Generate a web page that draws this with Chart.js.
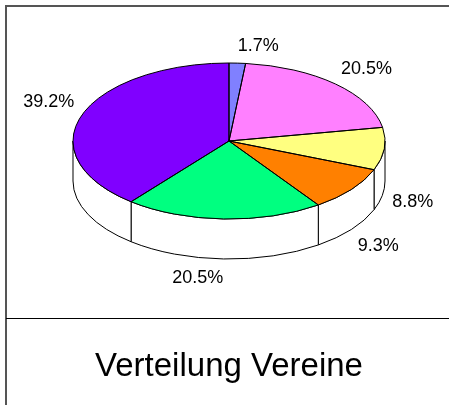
<!DOCTYPE html>
<html>
<head>
<meta charset="utf-8">
<script src="https://cdn.jsdelivr.net/npm/chart.js@4/dist/chart.umd.min.js"></script>
<style>
  html, body { margin: 0; padding: 0; background: #fff; }
  #wrap { position: relative; width: 449px; height: 405px; overflow: hidden; font-family: "Liberation Sans", Arial, sans-serif; }
  #c { position: absolute; left: 0; top: 0; }
  .frameTop { position: absolute; left: 5px; top: 5px; width: 444px; height: 0; border-top: 2px solid #555; }
  .frameLeft { position: absolute; left: 5px; top: 5px; width: 0; height: 400px; border-left: 2px solid #555; }
  .divider { position: absolute; left: 6px; top: 318px; width: 443px; height: 0; border-top: 1px solid #000; }
  #title { position: absolute; left: 0; width: 458px; top: 345px; text-align: center; font-size: 33px; line-height: 40px; color: #000; }
</style>
</head>
<body>
<div id="wrap">
  <canvas id="c" width="449" height="405"></canvas>
  <div class="frameTop"></div>
  <div class="frameLeft"></div>
  <div class="divider"></div>
  <div id="title">Verteilung Vereine</div>
</div>
<script>
// ---- data ----
const categories = ['Verein 1', 'Verein 2', 'Verein 3', 'Verein 4', 'Verein 5', 'Verein 6'];
const shares = [1.7, 20.5, 8.8, 9.3, 20.5, 39.2];
const percentLabels = ['1.7%', '20.5%', '8.8%', '9.3%', '20.5%', '39.2%'];
const sliceColors = ['#8080ff', '#ff80ff', '#ffff80', '#ff8000', '#00ff80', '#8000ff'];

// ---- 3D look (layout) ----
const GEO = { cx: 229, cy: 141, rx: 156, ry: 78, depth: 40 };

function frontSegments(s, e) {
  const out = [];
  for (let k = -1; k <= 1; k++) {
    const lo = Math.max(s, 2 * Math.PI * k), hi = Math.min(e, 2 * Math.PI * k + Math.PI);
    if (hi > lo) out.push([lo, hi]);
  }
  return out;
}

const pie3d = {
  id: 'pie3d',
  beforeDatasetsDraw(chart) {
    const ctx = chart.ctx;
    const arcs = chart.getDatasetMeta(0).data;
    const g = GEO;
    ctx.save();
    ctx.lineWidth = 1;
    ctx.strokeStyle = '#000';
    ctx.fillStyle = '#fff';
    arcs.forEach(a => {
      frontSegments(a.startAngle, a.endAngle).forEach(([b1, b2]) => {
        ctx.beginPath();
        ctx.ellipse(g.cx, g.cy, g.rx, g.ry, 0, b1, b2);
        ctx.lineTo(g.cx + g.rx * Math.cos(b2), g.cy + g.depth + g.ry * Math.sin(b2));
        ctx.ellipse(g.cx, g.cy + g.depth, g.rx, g.ry, 0, b2, b1, true);
        ctx.closePath();
        ctx.fill();
        ctx.stroke();
      });
    });
    ctx.restore();
    const a0 = arcs[0];
    ctx.save();
    ctx.translate(g.cx, g.cy);
    ctx.scale(g.rx / a0.outerRadius, g.ry / a0.outerRadius);
    ctx.translate(-a0.x, -a0.y);
  },
  afterDatasetsDraw(chart) {
    const ctx = chart.ctx;
    ctx.restore();
    const arcs = chart.getDatasetMeta(0).data;
    const g = GEO;
    ctx.save();
    ctx.lineWidth = 1;
    ctx.strokeStyle = '#000';
    ctx.lineJoin = 'round';
    arcs.forEach(a => {
      ctx.beginPath();
      ctx.moveTo(g.cx, g.cy);
      ctx.lineTo(g.cx + g.rx * Math.cos(a.startAngle), g.cy + g.ry * Math.sin(a.startAngle));
      ctx.ellipse(g.cx, g.cy, g.rx, g.ry, 0, a.startAngle, a.endAngle);
      ctx.closePath();
      ctx.stroke();
    });
    // labels
    ctx.fillStyle = '#000';
    ctx.font = '18px "Liberation Sans", Arial, sans-serif';
    ctx.textBaseline = 'middle';
    arcs.forEach((a, i) => {
      const m = (a.startAngle + a.endAngle) / 2;
      const c = Math.cos(m), s = Math.sin(m);
      const x = g.cx + (g.rx + 8) * c;
      let y = g.cy + g.ry * s + 6 * s;
      if (s > 0) y += g.depth + 13; else y -= 11;
      ctx.textAlign = c >= 0 ? 'left' : 'right';
      ctx.fillText(percentLabels[i], x, y);
    });
    ctx.restore();
  }
};

new Chart(document.getElementById('c'), {
  type: 'pie',
  data: {
    labels: categories,
    datasets: [{
      data: shares,
      backgroundColor: sliceColors,
      borderWidth: 0
    }]
  },
  options: {
    responsive: false,
    animation: false,
    events: [],
    layout: { padding: { left: 73, right: 64, top: 0, bottom: 93 } },
    plugins: { legend: { display: false }, tooltip: { enabled: false }, title: { display: false } }
  },
  plugins: [pie3d]
});
</script>
</body>
</html>
